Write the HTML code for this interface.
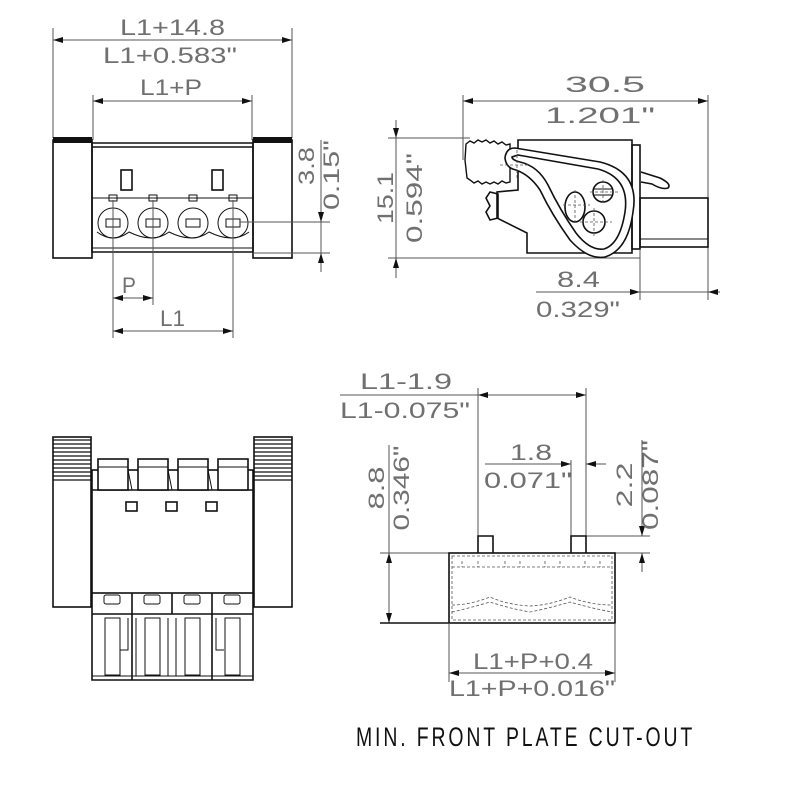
<!DOCTYPE html>
<html><head><meta charset="utf-8"><style>
html,body{margin:0;padding:0;background:#fff}
svg{display:block}
.t{font-family:"Liberation Sans",sans-serif;font-size:22px;fill:#707070;}
.ln{stroke:#555;stroke-width:1;fill:none}
.bd{stroke:#111;stroke-width:1.6;fill:none}
.th{stroke:#111;stroke-width:1;fill:none}
.ds{stroke:#555;stroke-width:0.8;fill:none;stroke-dasharray:3 2}
</style></head><body>
<svg width="800" height="800" viewBox="0 0 800 800" xmlns="http://www.w3.org/2000/svg">
<defs>
<marker id="a" viewBox="0 0 10 6" refX="10" refY="3" markerWidth="10" markerHeight="6" orient="auto-start-reverse" markerUnits="userSpaceOnUse"><path d="M0,0 L10,3 L0,6 Z" fill="#111"/></marker>
</defs>

<!-- ===== TOP LEFT ===== -->
<line class="ln" x1="53" y1="40" x2="292" y2="40" marker-start="url(#a)" marker-end="url(#a)"/>
<line class="ln" x1="53" y1="28" x2="53" y2="138"/>
<line class="ln" x1="292" y1="28" x2="292" y2="138"/>
<text class="t" x="120" y="35" textLength="105" lengthAdjust="spacingAndGlyphs">L1+14.8</text>
<text class="t" x="103" y="63" textLength="134" lengthAdjust="spacingAndGlyphs">L1+0.583"</text>
<line class="ln" x1="93" y1="101" x2="252" y2="101" marker-start="url(#a)" marker-end="url(#a)"/>
<line class="ln" x1="93" y1="95" x2="93" y2="140"/>
<line class="ln" x1="252" y1="95" x2="252" y2="140"/>
<text class="t" x="140" y="95" textLength="62" lengthAdjust="spacingAndGlyphs">L1+P</text>

<rect class="bd" x="53" y="140" width="39" height="118"/>
<rect x="53" y="137" width="39" height="6" fill="#111"/>
<rect class="bd" x="253" y="140" width="39" height="118"/>
<rect x="253" y="137" width="39" height="6" fill="#111"/>
<path class="bd" d="M92,143 L253,143 M92,147 L253,147 M92,143 L92,252 L253,252 L253,143"/>
<rect class="bd" x="121" y="170" width="11" height="20"/>
<rect class="bd" x="212" y="170" width="11" height="20"/>
<path class="th" d="M92,198 L253,198 M92,248 L253,248"/>
<g class="th">
<circle cx="113" cy="223" r="15"/><circle cx="153" cy="223" r="15"/><circle cx="193" cy="223" r="15"/><circle cx="233" cy="223" r="15"/>
<path d="M97,232 Q113,244 129,232 Q153,244 169,232 Q193,244 209,232 Q233,244 249,232"/>
<rect x="109" y="195" width="8" height="6"/><rect x="149" y="195" width="8" height="6"/><rect x="189" y="195" width="8" height="6"/><rect x="229" y="195" width="8" height="6"/>
<rect x="106" y="219" width="14" height="8"/><rect x="146" y="219" width="14" height="8"/><rect x="186" y="219" width="14" height="8"/><rect x="226" y="219" width="14" height="8"/>
</g>
<line class="ln" x1="113" y1="200" x2="113" y2="338"/>
<line class="ln" x1="153" y1="200" x2="153" y2="305"/>
<line class="ln" x1="233" y1="200" x2="233" y2="338"/>
<line class="ln" x1="240" y1="222" x2="330" y2="222"/>
<line class="ln" x1="253" y1="253" x2="330" y2="253"/>
<line class="ln" x1="321" y1="140" x2="321" y2="272"/>
<line class="ln" x1="321" y1="205" x2="321" y2="222" marker-end="url(#a)"/>
<line class="ln" x1="321" y1="270" x2="321" y2="253" marker-end="url(#a)"/>
<text class="t" transform="translate(314,166) rotate(-90)" text-anchor="middle" textLength="38" lengthAdjust="spacingAndGlyphs">3.8</text>
<text class="t" transform="translate(339,175) rotate(-90)" text-anchor="middle" textLength="70" lengthAdjust="spacingAndGlyphs">0.15"</text>
<line class="ln" x1="113" y1="298" x2="153" y2="298" marker-start="url(#a)" marker-end="url(#a)"/>
<text class="t" x="122" y="293" textLength="14" lengthAdjust="spacingAndGlyphs">P</text>
<line class="ln" x1="113" y1="331" x2="233" y2="331" marker-start="url(#a)" marker-end="url(#a)"/>
<text class="t" x="160" y="326" textLength="25" lengthAdjust="spacingAndGlyphs">L1</text>

<!-- ===== TOP RIGHT ===== -->
<line class="ln" x1="463" y1="101" x2="708" y2="101" marker-start="url(#a)" marker-end="url(#a)"/>
<line class="ln" x1="463" y1="95" x2="463" y2="160"/>
<line class="ln" x1="708" y1="95" x2="708" y2="300"/>
<text class="t" x="565" y="92" textLength="80" lengthAdjust="spacingAndGlyphs">30.5</text>
<text class="t" x="545" y="123" textLength="110" lengthAdjust="spacingAndGlyphs">1.201"</text>
<line class="ln" x1="388" y1="138" x2="470" y2="138"/>
<line class="ln" x1="388" y1="258" x2="640" y2="258"/>
<line class="ln" x1="396" y1="120" x2="396" y2="138" marker-end="url(#a)"/>
<line class="ln" x1="396" y1="138" x2="396" y2="258"/>
<line class="ln" x1="396" y1="278" x2="396" y2="258" marker-end="url(#a)"/>
<text class="t" transform="translate(393,198) rotate(-90)" text-anchor="middle" textLength="52" lengthAdjust="spacingAndGlyphs">15.1</text>
<text class="t" transform="translate(422,198) rotate(-90)" text-anchor="middle" textLength="90" lengthAdjust="spacingAndGlyphs">0.594"</text>
<line class="ln" x1="536" y1="292" x2="640" y2="292" marker-end="url(#a)"/>
<line class="ln" x1="720" y1="292" x2="708" y2="292" marker-end="url(#a)"/>
<line class="ln" x1="640" y1="292" x2="708" y2="292"/>
<line class="ln" x1="640" y1="250" x2="640" y2="300"/>
<text class="t" x="557" y="287" textLength="43" lengthAdjust="spacingAndGlyphs">8.4</text>
<text class="t" x="536" y="317" textLength="84" lengthAdjust="spacingAndGlyphs">0.329"</text>

<!-- side view shape -->
<path class="bd" d="M518,140 L632,140 L632,253 L527,253 L527,233 L497,218 L497,192 L518,190 Z"/>
<rect class="bd" x="632" y="145" width="8" height="104"/>
<rect class="bd" x="640" y="198" width="68" height="49"/>
<line class="th" x1="640" y1="239" x2="708" y2="239"/>
<path class="bd" d="M641,172 L660,178 Q672,184 668,188 Q662,190 652,184 L641,182"/>
<path d="M466,144 L470,141 L474,143 L478,140 L482,142 L486,140 L490,143 L494,141 L498,144 L502,142 L506,145 L510,144 L510,182 L506,183 L502,181 L498,184 L494,182 L490,184 L486,182 L482,184 L478,181 L474,183 L470,180 L467,178 L465,160 Z" fill="#fff" stroke="#111" stroke-width="1.4"/>
<path class="bd" d="M490,192 L498,194 L498,218 L490,220 L486,212 L490,206 L486,198 Z"/>
<path d="M515,148 L600,162 Q640,172 633,212 Q628,250 605,257 Q588,260 570,240 Q552,215 540,190 Q530,175 516,170 Q506,168 505,158 Q506,148 515,148 Z" fill="#fff" stroke="#111" stroke-width="1.6"/>
<path class="bd" d="M518,155 L598,169 Q630,178 625,212 Q620,244 604,249 Q590,251 576,233 Q560,210 548,185 Q538,166 520,162 Q512,160 512,157 Z"/>
<circle class="bd" cx="603" cy="192" r="10"/>
<path class="th" d="M593,189 L613,189 M593,195 L613,195"/>
<ellipse class="bd" cx="575" cy="207" rx="10" ry="15"/>
<circle class="bd" cx="594" cy="222" r="11"/>
<path class="ds" d="M500,165 L530,165 M517,150 L517,180 M590,192 L618,192 M603,180 L603,205 M563,205 L590,205 M575,190 L575,222 M580,222 L612,222 M594,208 L594,238"/>

<!-- ===== BOTTOM LEFT ===== -->
<rect class="bd" x="53" y="437" width="38" height="170"/>
<rect class="bd" x="254" y="437" width="38" height="170"/>
<g stroke="#111" stroke-width="1.3">
<path d="M53,440 H91 M53,444 H91 M53,448 H91 M53,452 H91 M53,456 H91 M53,460 H91 M53,464 H91 M53,468 H91 M53,472 H91 M53,476 H91 M53,480 H91"/>
<path d="M254,440 H292 M254,444 H292 M254,448 H292 M254,452 H292 M254,456 H292 M254,460 H292 M254,464 H292 M254,468 H292 M254,472 H292 M254,476 H292 M254,480 H292"/>
</g>
<rect class="bd" x="92" y="470" width="161" height="123"/>
<line class="bd" x1="92" y1="490" x2="253" y2="490"/>
<g class="bd">
<rect x="98" y="459" width="30" height="31" fill="#fff"/><rect x="138" y="459" width="30" height="31" fill="#fff"/><rect x="178" y="459" width="30" height="31" fill="#fff"/><rect x="218" y="459" width="30" height="31" fill="#fff"/>
</g>
<path class="th" d="M98,467 H128 M138,467 H168 M178,467 H208 M218,467 H248 M128,470 L132,490 M168,470 L172,490 M208,470 L212,490"/>
<g class="bd"><rect x="126" y="502" width="11" height="9"/><rect x="166" y="502" width="11" height="9"/><rect x="206" y="502" width="11" height="9"/></g>
<path class="bd" d="M92,593 V680 H253 V593 M92,614 H253 M132,593 V680 M172,593 V614 M212,593 V680"/>
<g class="th">
<rect x="104" y="595" width="16" height="9" rx="2"/><rect x="144" y="595" width="16" height="9" rx="2"/><rect x="184" y="595" width="16" height="9" rx="2"/><rect x="224" y="595" width="16" height="9" rx="2"/>
<path d="M105,618 V675 H120 V618 Z M145,618 V675 H160 V618 Z M185,618 V675 H200 V618 Z M225,618 V675 H240 V618 Z"/>
<path d="M120,618 V650 H128 V618 M136,618 V676 M168,618 V676 M176,618 V676 M216,618 V650 H224"/>
<path d="M92,676 H253"/>
</g>

<!-- ===== BOTTOM RIGHT ===== -->
<line class="ln" x1="340" y1="395" x2="478" y2="395"/>
<line class="ln" x1="478" y1="395" x2="586" y2="395" marker-start="url(#a)" marker-end="url(#a)"/>
<line class="ln" x1="478" y1="388" x2="478" y2="536"/>
<line class="ln" x1="586" y1="388" x2="586" y2="536"/>
<text class="t" x="360" y="389" textLength="92" lengthAdjust="spacingAndGlyphs">L1-1.9</text>
<text class="t" x="340" y="418" textLength="130" lengthAdjust="spacingAndGlyphs">L1-0.075"</text>
<line class="ln" x1="485" y1="464" x2="571" y2="464" marker-end="url(#a)"/>
<line class="ln" x1="606" y1="464" x2="586" y2="464" marker-end="url(#a)"/>
<line class="ln" x1="571" y1="460" x2="571" y2="536"/>
<text class="t" x="510" y="460" textLength="42" lengthAdjust="spacingAndGlyphs">1.8</text>
<text class="t" x="484" y="488" textLength="88" lengthAdjust="spacingAndGlyphs">0.071"</text>
<line class="ln" x1="586" y1="536" x2="650" y2="536"/>
<line class="ln" x1="380" y1="553" x2="650" y2="553"/>
<line class="ln" x1="642" y1="440" x2="642" y2="536" marker-end="url(#a)"/>
<line class="ln" x1="642" y1="572" x2="642" y2="553" marker-end="url(#a)"/>
<text class="t" transform="translate(632,485) rotate(-90)" text-anchor="middle" textLength="45" lengthAdjust="spacingAndGlyphs">2.2</text>
<text class="t" transform="translate(658,485) rotate(-90)" text-anchor="middle" textLength="90" lengthAdjust="spacingAndGlyphs">0.087"</text>
<line class="ln" x1="389" y1="445" x2="389" y2="623"/>
<line class="ln" x1="389" y1="575" x2="389" y2="553" marker-end="url(#a)"/>
<line class="ln" x1="389" y1="600" x2="389" y2="623" marker-end="url(#a)"/>
<line class="bd" x1="380" y1="623" x2="449" y2="623"/>
<text class="t" transform="translate(384,488) rotate(-90)" text-anchor="middle" textLength="43" lengthAdjust="spacingAndGlyphs">8.8</text>
<text class="t" transform="translate(409,488) rotate(-90)" text-anchor="middle" textLength="85" lengthAdjust="spacingAndGlyphs">0.346"</text>
<rect class="bd" x="449" y="553" width="166" height="70"/>
<path class="bd" d="M478,553 V536 H493 V553 M571,553 V536 H586 V553"/>
<rect class="ds" x="452" y="556" width="160" height="64"/>
<path class="ds" d="M452,567 H612 M462,561 V567 M478,561 V567 M505,561 V567 M520,561 V567 M545,561 V567 M560,561 V567 M585,561 V567 M600,561 V567"/>
<path class="ds" d="M452,612 Q470,608 490,602 Q508,608 530,612 Q550,608 570,602 Q590,608 612,612"/>
<path class="ds" d="M452,605 Q470,605 490,597 Q508,605 530,606 Q550,605 570,597 Q590,605 612,605"/>
<line class="ln" x1="449" y1="623" x2="449" y2="682"/>
<line class="ln" x1="615" y1="623" x2="615" y2="682"/>
<line class="ln" x1="449" y1="673" x2="615" y2="673" marker-start="url(#a)" marker-end="url(#a)"/>
<text class="t" x="473" y="669" textLength="120" lengthAdjust="spacingAndGlyphs">L1+P+0.4</text>
<text class="t" x="449" y="696" textLength="166" lengthAdjust="spacingAndGlyphs">L1+P+0.016"</text>

<text transform="translate(356,746) scale(0.72,1)" style="font-family:'Liberation Sans',sans-serif;font-size:27px;fill:#111" textLength="467" lengthAdjust="spacing">MIN. FRONT PLATE CUT-OUT</text>
</svg>
</body></html>
